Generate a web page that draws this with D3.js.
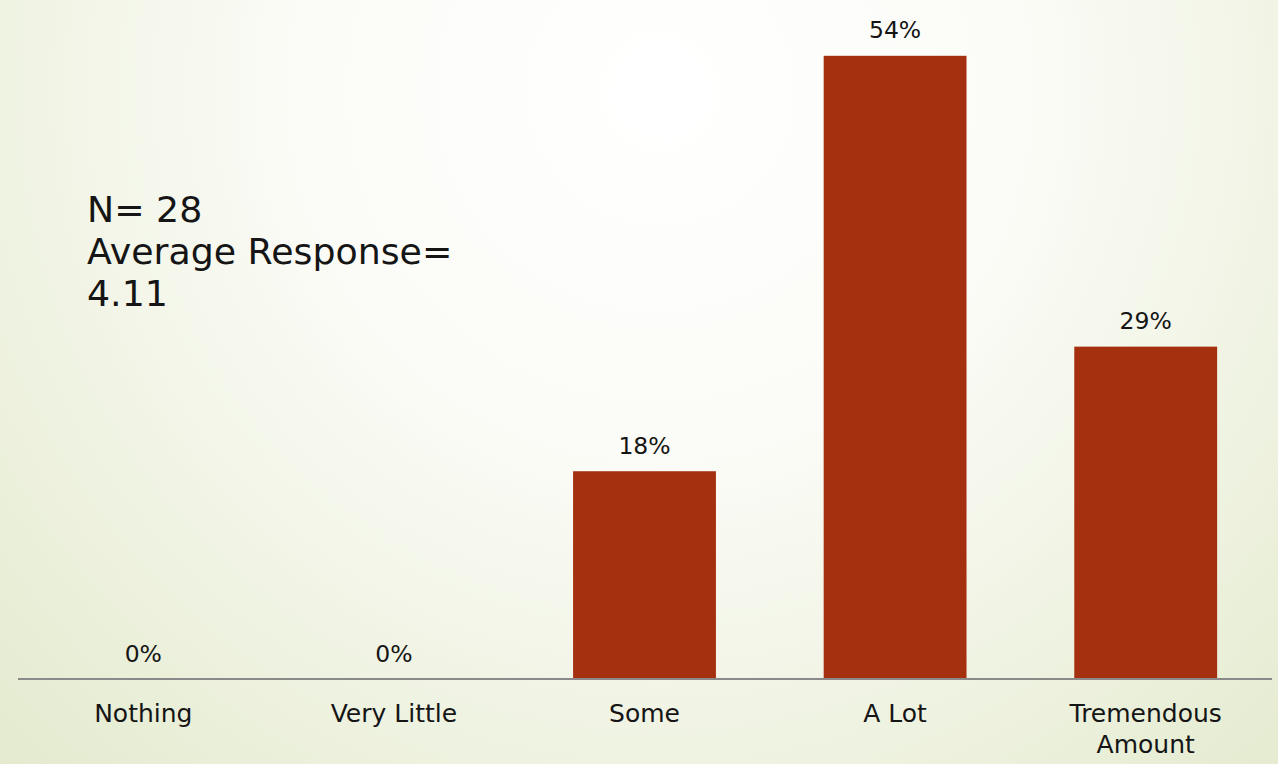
<!DOCTYPE html>
<html>
<head>
<meta charset="utf-8">
<script src="https://cdn.jsdelivr.net/npm/d3@7"></script>
<style>
  html, body { margin: 0; padding: 0; overflow: hidden; }
  svg { display: block; font-family: "DejaVu Sans", sans-serif; }
</style>
</head>
<body>
<svg id="chart" width="1278" height="764"></svg>
<script>
// ---- data ----
const categories = ["Nothing", "Very Little", "Some", "A Lot", "Tremendous Amount"];
const percentValues = [0, 0, 17.86, 53.57, 28.57];
const valueLabels = ["0%", "0%", "18%", "54%", "29%"];
const noteLines = ["N= 28", "Average Response=", "4.11"];

// ---- layout ----
const W = 1278, H = 764;
const svg = d3.select("#chart");

// background radial gradient
const defs = svg.append("defs");
const grad = defs.append("radialGradient")
  .attr("id", "bg").attr("gradientUnits", "userSpaceOnUse")
  .attr("cx", 660).attr("cy", 90).attr("r", 1020);
grad.append("stop").attr("offset", "0").attr("stop-color", "#ffffff");
grad.append("stop").attr("offset", "0.35").attr("stop-color", "#fbfcf7");
grad.append("stop").attr("offset", "1").attr("stop-color", "#e1e8c9");
svg.append("rect").attr("width", W).attr("height", H).attr("fill", "url(#bg)");

const baseY = 679;
const x = d3.scaleBand().domain(categories).range([18, 1271])
  .paddingInner(0.43).paddingOuter(0.215);
const y = d3.scaleLinear().domain([0, 60]).range([baseY, baseY - 698]);

// bars
svg.append("g").selectAll("rect")
  .data(categories)
  .join("rect")
  .attr("x", d => x(d))
  .attr("width", x.bandwidth())
  .attr("y", (d, i) => y(percentValues[i]))
  .attr("height", (d, i) => y(0) - y(percentValues[i]))
  .attr("fill", "#A53010");

// value labels
svg.append("g").selectAll("text")
  .data(categories)
  .join("text")
  .attr("x", d => x(d) + x.bandwidth() / 2)
  .attr("y", (d, i) => y(percentValues[i]) - 17.5)
  .attr("text-anchor", "middle")
  .attr("font-size", 23.5)
  .attr("fill", "#151515")
  .text((d, i) => valueLabels[i]);

// axis
const axis = d3.axisBottom(x).tickSize(0).tickPadding(0);
const gAxis = svg.append("g").attr("transform", `translate(0,${baseY})`).call(axis);
gAxis.select(".domain").attr("d", "M18,0H1272").attr("stroke", "#8a8a8a").attr("stroke-width", 2);
gAxis.selectAll(".tick text")
  .attr("font-size", 25)
  .attr("font-family", "DejaVu Sans, sans-serif")
  .attr("fill", "#151515")
  .attr("dy", null)
  .attr("y", 43)
  .each(function(d) {
    const t = d3.select(this);
    const words = d.split(" ");
    t.text(d);
    if (this.getComputedTextLength() > x.bandwidth() * 1.25) {
      t.text(null);
      words.forEach((w, i) => {
        t.append("tspan").attr("x", 0).attr("y", 43 + i * 31).text(w);
      });
    }
  });

// note text
svg.append("g").selectAll("text")
  .data(noteLines)
  .join("text")
  .attr("x", 87)
  .attr("y", (d, i) => 222 + i * 42)
  .attr("font-size", 36.3)
  .attr("fill", "#151515")
  .text(d => d);
</script>
</body>
</html>
